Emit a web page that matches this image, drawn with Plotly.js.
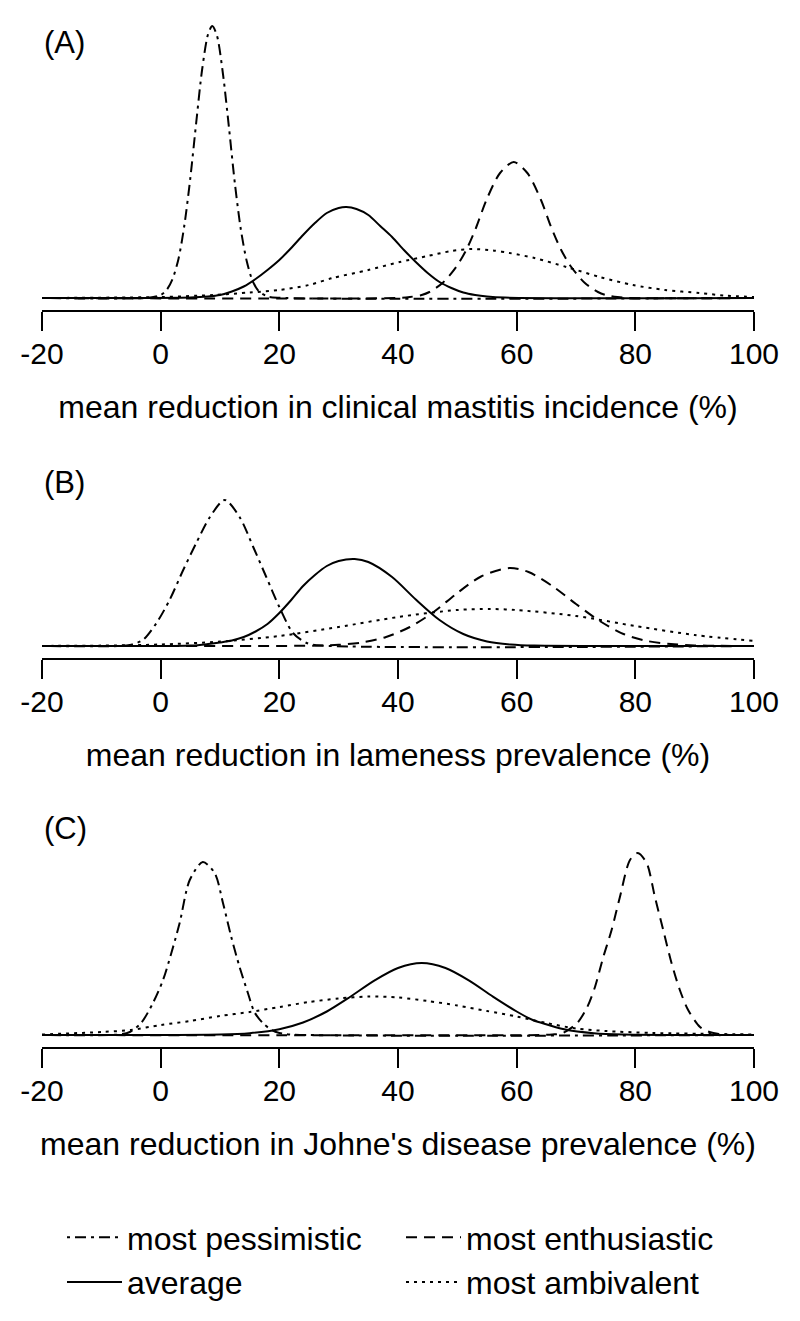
<!DOCTYPE html>
<html>
<head>
<meta charset="utf-8">
<script src="https://cdn.plot.ly/plotly-3.0.1.min.js"></script>
<style>
  body { margin: 0; background: #fff; }
  #plot { width: 800px; height: 1321px; }
</style>
</head>
<body>
<div id="plot"></div>
<script>
// heights (arbitrary density units, one per panel)

// (A) clinical mastitis
let aPessX = [-20, -2, 0, 1, 2, 3, 4, 5, 6, 7, 8, 8.7, 9.5, 10.5, 11.5, 12.5, 13.5, 14.5, 15.5, 16.5, 18, 20, 100];
let aPessY = [0, 0.3, 3, 8, 19, 39, 73, 120, 176, 229, 264, 272, 262, 224, 171, 115, 69, 37, 17, 7, 1.6, 0.2, 0];
let aEnthX = [-20, 40, 42, 44, 45.3, 47.5, 49.8, 51.5, 53.2, 54.9, 57.2, 59.5, 61.8, 64.1, 65.8, 67.5, 69.2, 71.5, 73.7, 75, 77, 79, 100];
let aEnthY = [0, 0, 1, 3, 6, 15, 31, 48, 71, 98, 125, 136, 125, 98, 71, 48, 31, 15, 6, 3, 1, 0, 0];
let aAvgX = [-20, 5, 8, 10, 12, 14, 16, 18, 20, 22, 24, 26, 28, 30, 31.3, 33, 35, 37, 39, 41, 43, 45, 47, 49, 51, 53, 55, 58, 100];
let aAvgY = [0, 0.5, 1.5, 3, 6.5, 11.5, 19, 28, 38, 50, 63, 75, 85, 90, 91, 89, 83, 72, 61, 48, 36, 25, 16, 10, 5.5, 3, 1.5, 0.4, 0];
let aAmbX = [-20, 0, 8.8, 15, 20, 25, 29, 35, 40.3, 45, 49, 52.5, 56, 58.8, 63, 68.4, 74, 79.6, 85, 90.8, 95, 100];
let aAmbY = [0, 1, 3, 5.5, 8, 13, 20, 28, 36, 42, 47, 49, 47.5, 45, 40, 31, 21, 13, 8, 5, 2.5, 1];

// (B) lameness
let bPessX = [-20, -7, -5.2, -3, -0.7, 1.5, 3.8, 6, 8.3, 10.8, 13.3, 15.6, 17.8, 20, 22.3, 24.6, 27, 100];
let bPessY = [0, 0, 1, 6, 23, 46, 76, 103, 129, 146, 129, 99, 69, 39, 13, 3, 0.5, 0];
let bEnthX = [-20, 25, 30, 34, 38, 42, 46, 50, 54, 58.8, 62, 66, 70, 74, 78, 82, 86, 90, 94, 100];
let bEnthY = [0, 0.3, 1.2, 3.6, 9, 19, 34, 53, 69.5, 78, 74, 60, 42, 25, 12, 5, 2, 0.6, 0.2, 0];
let bAvgX = [-20, 5, 8, 10, 12, 14, 16, 18, 20, 22, 24, 26, 28, 30, 32.7, 35, 39, 43, 47, 51, 55, 59, 63, 100];
let bAvgY = [0, 0.5, 2, 3.5, 5.5, 9, 14.5, 22, 33, 46, 60, 71, 80, 85, 87, 84, 69, 46.5, 26, 12, 4.6, 1.5, 0.4, 0];
let bAmbX = [-20, -10, 0, 10, 20, 30, 40, 50, 55.5, 60, 70, 80, 90, 100];
let bAmbY = [0.1, 0.4, 1.5, 4.4, 10, 19, 29, 36, 37, 36, 30, 20, 11, 5];

// (C) Johne's disease
let cPessX = [-20, -7, -5.2, -3.3, -1.3, 0.4, 1.8, 3.2, 4.9, 7.1, 9.1, 10.5, 11.9, 13.3, 14.7, 15.8, 17.2, 18.7, 20, 22, 100];
let cPessY = [0, 0.5, 3, 12, 32, 55, 82, 112, 155, 173, 162, 132, 98, 68, 42, 23, 12, 5, 2, 0.5, 0];
let cEnthX = [-20, 64, 66, 67.8, 70.2, 71.9, 73.2, 74.6, 76, 77.4, 79.1, 80.4, 81.9, 83.3, 84.7, 86.1, 87.5, 88.9, 90.9, 92.5, 94.5, 97, 100];
let cEnthY = [0, 0, 0.5, 2, 12, 28, 48, 78, 105, 138, 175, 182, 172, 138, 105, 72, 45, 25, 8, 3, 0.7, 0, 0];
let cAvgX = [-20, 10, 15, 20, 24, 28, 31.9, 36, 40, 44, 48, 52, 56, 60, 62.7, 64, 68, 73, 78, 100];
let cAvgY = [0, 0.5, 1.8, 5.8, 12.5, 23.5, 38, 54.4, 67, 72, 67, 54.4, 38.4, 23.5, 15, 12.5, 5.8, 1.8, 0.5, 0];
let cAmbX = [-20, -10, -5, 0, 5, 10, 15, 20, 25, 30, 35, 40, 45, 50, 55, 60, 65, 70, 75, 83, 94, 100];
let cAmbY = [0.5, 3, 5, 10, 14, 19, 23, 28, 33, 36.5, 38.5, 37.5, 34, 29.5, 24, 18.5, 12, 6.5, 4, 2, 1, 0.5];

let seriesNames = ['most pessimistic', 'most enthusiastic', 'average', 'most ambivalent'];
let tickValues = [-20, 0, 20, 40, 60, 80, 100];
let axisTitles = [
    'mean reduction in clinical mastitis incidence (%)',
    'mean reduction in lameness prevalence (%)',
    "mean reduction in Johne's disease prevalence (%)"
];
let panelLabels = ['(A)', '(B)', '(C)'];

let font = 'Liberation Sans, Arial, Helvetica, sans-serif';
let dashes = ['3px,5px,11px,5px', '11px,7px', 'solid', '3px,5px'];

let panels = [
    [[aPessX, aPessY], [aEnthX, aEnthY], [aAvgX, aAvgY], [aAmbX, aAmbY]],
    [[bPessX, bPessY], [bEnthX, bEnthY], [bAvgX, bAvgY], [bAmbX, bAmbY]],
    [[cPessX, cPessY], [cEnthX, cEnthY], [cAvgX, cAvgY], [cAmbX, cAmbY]]
];

// pixel box of each panel: top, bottom (axis line), label centre
let H = 1321;
let boxes = [[20, 310, 42], [440, 658, 482], [800, 1047, 828]];
let baseGap = 12; // px between zero line and axis line

let data = [];
panels.forEach(function(curves, p) {
    curves.forEach(function(c, i) {
        data.push({
            x: c[0],
            y: c[1],
            type: 'scatter',
            mode: 'lines',
            name: seriesNames[i],
            showlegend: p === 0,
            xaxis: p === 0 ? 'x' : 'x' + (p + 1),
            yaxis: p === 0 ? 'y' : 'y' + (p + 1),
            line: {color: '#000', width: 2, dash: dashes[i], shape: 'spline', smoothing: 0.8},
            hoverinfo: 'skip'
        });
    });
});

let layout = {
    width: 800,
    height: H,
    margin: {l: 42, r: 46, t: 0, b: 0},
    paper_bgcolor: '#fff',
    plot_bgcolor: '#fff',
    font: {family: font, size: 30, color: '#000'},
    showlegend: true,
    legend: {
        orientation: 'h',
        x: 20 / 712,
        xanchor: 'left',
        y: 1 - 1210 / H,
        yanchor: 'top',
        entrywidth: 269,
        itemwidth: 55,
        font: {family: font, size: 32, color: '#000'},
        tracegroupgap: 0
    },
    annotations: [],
    hovermode: false
};

boxes.forEach(function(b, p) {
    let sfx = p === 0 ? '' : String(p + 1);
    let h = b[1] - b[0];
    layout['xaxis' + sfx] = {
        anchor: 'y' + sfx,
        range: [-20, 100],
        tickmode: 'array',
        tickvals: tickValues,
        ticktext: tickValues.map(String),
        ticks: 'outside',
        ticklen: 19,
        tickwidth: 2,
        tickcolor: '#000',
        ticklabelstandoff: -3,
        showline: true,
        linewidth: 2,
        linecolor: '#000',
        showgrid: false,
        zeroline: false,
        tickfont: {family: font, size: 30, color: '#000'},
        title: {text: axisTitles[p], font: {family: font, size: 32, color: '#000'}, standoff: 27},
        automargin: false,
        fixedrange: true
    };
    layout['yaxis' + sfx] = {
        domain: [1 - b[1] / H, 1 - b[0] / H],
        range: [-baseGap, h - baseGap],
        visible: false,
        fixedrange: true
    };
    layout.annotations.push({
        text: panelLabels[p],
        xref: 'paper', yref: 'paper',
        x: 0, y: 1 - b[2] / H,
        xanchor: 'left', yanchor: 'middle',
        showarrow: false,
        font: {family: font, size: 31, color: '#000'}
    });
});

Plotly.newPlot('plot', data, layout, {displayModeBar: false, staticPlot: true});
</script>
</body>
</html>
